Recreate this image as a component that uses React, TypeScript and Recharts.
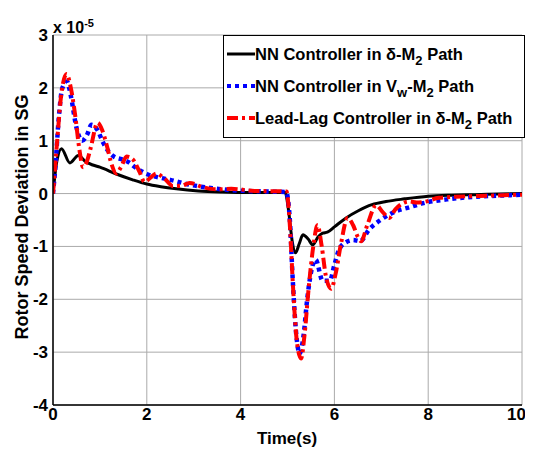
import { LineChart, Line, XAxis, YAxis, CartesianGrid } from "recharts";

// values are in units of 1e-5 (axis multiplier shown top-left)
const nnDeltaT = [0, 0.08, 0.18, 0.36, 0.54, 0.7, 0.85, 1.0, 1.35, 1.7, 2.0, 2.3, 2.63, 3.1, 3.6, 4.2, 4.95, 5.02, 5.1, 5.17, 5.25, 5.33, 5.44, 5.54, 5.65, 5.75, 5.85, 6.0, 6.25, 6.5, 6.8, 7.1, 7.5, 8.0, 8.5, 9.0, 9.5, 10];
const nnDeltaV = [0, 0.6, 0.85, 0.58, 0.72, 0.6, 0.54, 0.5, 0.37, 0.26, 0.18, 0.13, 0.09, 0.05, 0.03, 0.02, 0.02, -0.3, -0.9, -1.12, -0.95, -0.78, -0.86, -0.97, -0.82, -0.75, -0.73, -0.63, -0.46, -0.33, -0.21, -0.15, -0.1, -0.05, -0.03, -0.02, -0.01, 0];

const nnVwT = [0, 0.05, 0.12, 0.2, 0.3, 0.38, 0.5, 0.62, 0.72, 0.82, 0.95, 1.07, 1.2, 1.3, 1.46, 1.6, 1.75, 2.0, 2.28, 2.5, 2.9, 3.4, 3.9, 4.5, 4.97, 5.05, 5.11, 5.18, 5.26, 5.34, 5.42, 5.5, 5.6, 5.75, 5.9, 6.0, 6.1, 6.25, 6.4, 6.55, 6.74, 7.0, 7.3, 7.6, 7.9, 8.4, 9.0, 9.5, 10];
const nnVwV = [0, 0.5, 1.4, 2.0, 2.12, 1.85, 1.25, 1.0, 1.1, 1.3, 1.2, 0.96, 0.78, 0.7, 0.65, 0.6, 0.5, 0.37, 0.3, 0.26, 0.17, 0.1, 0.06, 0.04, 0.03, -0.5, -1.6, -2.6, -3.02, -2.7, -2.0, -1.5, -1.25, -1.65, -1.65, -1.35, -1.06, -0.92, -0.88, -0.9, -0.68, -0.49, -0.34, -0.26, -0.18, -0.11, -0.06, -0.04, -0.02];

const leadLagT = [0, 0.08, 0.18, 0.29, 0.38, 0.47, 0.56, 0.64, 0.72, 0.8, 0.95, 1.05, 1.15, 1.25, 1.35, 1.45, 1.57, 1.7, 1.85, 1.95, 2.08, 2.2, 2.38, 2.56, 2.75, 2.91, 3.2, 3.48, 3.8, 4.3, 4.98, 5.05, 5.12, 5.2, 5.29, 5.36, 5.45, 5.55, 5.64, 5.73, 5.82, 5.93, 6.03, 6.14, 6.28, 6.4, 6.5, 6.57, 6.7, 6.89, 7.03, 7.17, 7.3, 7.49, 7.6, 7.75, 7.9, 8.23, 8.6, 9.3, 10];
const leadLagV = [0, 0.9, 1.9, 2.26, 2.0, 1.5, 0.85, 0.5, 0.6, 0.85, 1.34, 1.2, 0.9, 0.55, 0.38, 0.5, 0.7, 0.65, 0.4, 0.22, 0.3, 0.38, 0.28, 0.14, 0.15, 0.2, 0.12, 0.08, 0.09, 0.05, 0.04, -0.6, -1.8, -2.8, -3.12, -2.7, -1.8, -1.0, -0.6, -1.0, -1.57, -1.8, -1.5, -0.95, -0.46, -0.6, -0.82, -0.9, -0.6, -0.22, -0.35, -0.46, -0.3, -0.17, -0.15, -0.17, -0.16, -0.08, -0.06, -0.04, -0.02];

const xTicks = [0, 2, 4, 6, 8, 10];
const yTicks = [-4, -3, -2, -1, 0, 1, 2, 3];

const zip = (t: number[], v: number[]) => t.map((x, i) => ({ t: x, v: v[i] }));

const FONT = "'Liberation Sans', Arial, sans-serif";

const subStyle = { fontSize: 13, verticalAlign: "-5px", lineHeight: 0 };

const legendRows = [
  { stroke: "#000", dash: undefined, width: 3, label: <>NN Controller in δ-M<span style={subStyle}>2</span> Path</> },
  { stroke: "#0000ff", dash: "4 4", width: 4, label: <>NN Controller in V<span style={subStyle}>w</span>-M<span style={subStyle}>2</span> Path</> },
  { stroke: "#ff0000", dash: "11 4 3 4", width: 4, label: <>Lead-Lag Controller in δ-M<span style={subStyle}>2</span> Path</> },
];

const tickStyle = { fontFamily: FONT, fontWeight: "bold", fontSize: 17, fill: "#000" };

export default function App() {
  return (
    <div style={{ position: "relative", width: 517, height: 440, fontFamily: FONT }}>
      <style>{"body{overflow:hidden} .recharts-surface{overflow:visible}"}</style>
      <LineChart width={517} height={440} margin={{ top: 27, right: 3, left: 0, bottom: 23 }}>
        <CartesianGrid stroke="#aaa" strokeWidth={1} />
        <XAxis
          dataKey="t"
          type="number"
          domain={[0, 10]}
          ticks={xTicks}
          allowDataOverflow
          stroke="#000"
          tickLine={false}
          tickSize={0}
          tickMargin={3}
          height={20}
          tick={tickStyle}
          axisLine={{ stroke: "#000", strokeWidth: 1.5 }}
        />
        <XAxis xAxisId="top" orientation="top" dataKey="t" type="number" domain={[0, 10]} tick={false} tickLine={false} height={0} axisLine={{ stroke: "#000", strokeWidth: 1.5 }} />
        <YAxis
          type="number"
          domain={[-4, 3]}
          ticks={yTicks}
          allowDataOverflow
          width={45}
          tickLine={false}
          tickSize={0}
          tickMargin={5}
          tick={tickStyle}
          axisLine={{ stroke: "#000", strokeWidth: 1.5 }}
        />
        <YAxis yAxisId="right" orientation="right" domain={[-4, 3]} tick={false} tickLine={false} width={0} axisLine={{ stroke: "#000", strokeWidth: 1.5 }} />
        <Line data={zip(nnDeltaT, nnDeltaV)} dataKey="v" type="monotone" stroke="#000" strokeWidth={3} dot={false} isAnimationActive={false} />
        <Line data={zip(nnVwT, nnVwV)} dataKey="v" type="monotone" stroke="#0000ff" strokeWidth={4.5} strokeDasharray="4 4" dot={false} isAnimationActive={false} />
        <Line data={zip(leadLagT, leadLagV)} dataKey="v" type="monotone" stroke="#ff0000" strokeWidth={4} strokeDasharray="11 4 3 4" dot={false} isAnimationActive={false} />
      </LineChart>

      {/* legend box */}
      <div
        style={{
          position: "absolute",
          top: 27,
          left: 215,
          border: "1.5px solid #000",
          background: "#fff",
          width: 302,
          height: 103,
          boxSizing: "border-box",
          fontWeight: "bold",
          fontSize: 16.5,
          color: "#000",
          paddingLeft: 2,
          paddingTop: 2,
        }}
      >
        {legendRows.map((row, i) => (
          <div key={i} style={{ display: "flex", alignItems: "center", height: 32, whiteSpace: "nowrap" }}>
            <svg width={29} height={8} style={{ marginRight: 0 }}>
              <line x1={1} y1={4} x2={29} y2={4} stroke={row.stroke} strokeWidth={row.width} strokeDasharray={row.dash} />
            </svg>
            <span style={{ lineHeight: "17px" }}>{row.label}</span>
          </div>
        ))}
      </div>

      <div style={{ position: "absolute", left: 45, top: 9, fontWeight: "bold", fontSize: 16, whiteSpace: "nowrap" }}>
        x 10<sup style={{ fontSize: 11 }}>-5</sup>
      </div>
      <div
        style={{
          position: "absolute",
          left: 14,
          top: 209,
          transform: "translate(-50%, -50%) rotate(-90deg)",
          fontWeight: "bold",
          fontSize: 18,
          whiteSpace: "nowrap",
        }}
      >
        Rotor Speed Deviation in SG
      </div>
      <div style={{ position: "absolute", left: 279, top: 431, transform: "translate(-50%, -50%)", fontWeight: "bold", fontSize: 17, whiteSpace: "nowrap" }}>
        Time(s)
      </div>
    </div>
  );
}
